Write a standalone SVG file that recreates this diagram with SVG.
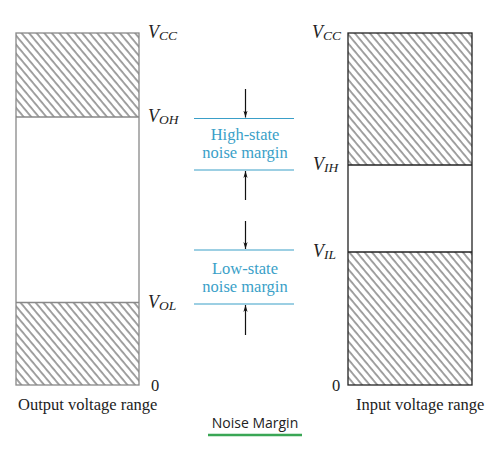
<svg xmlns="http://www.w3.org/2000/svg" width="503" height="454" viewBox="0 0 503 454">
<defs>
<pattern id="hatch" patternUnits="userSpaceOnUse" width="5.8" height="10" patternTransform="rotate(-40)">
<line x1="1" y1="-1" x2="1" y2="11" stroke="#111" stroke-width="0.8"/>
</pattern>
<marker id="ah" markerWidth="7" markerHeight="12" refX="10" refY="3.5" orient="auto" markerUnits="userSpaceOnUse" viewBox="0 0 10 7">
<path d="M0,0.5 L10,3.5 L0,6.5 L3,3.5 Z" fill="#111"/>
</marker>
</defs>
<style>
.lbl{font-family:"Liberation Serif","DejaVu Serif",serif;font-size:16.5px;fill:#222}
.v{font-family:"Liberation Serif","DejaVu Serif",serif;font-style:italic;fill:#222}
.nm{font-family:"Liberation Serif","DejaVu Serif",serif;font-size:16.5px;fill:#3a9fc8;text-anchor:middle}
.cy{stroke:#3a9fc8;stroke-width:1.2}
.arr{stroke:#111;stroke-width:1.2;marker-end:url(#ah)}
</style>
<rect width="503" height="454" fill="#fff"/>
<g id="output-range">
<rect x="16" y="33" width="123" height="84" fill="url(#hatch)"/>
<rect x="16" y="302.5" width="123" height="82.5" fill="url(#hatch)"/>
<rect x="16" y="33" width="123" height="352" fill="none" stroke="#888" stroke-width="1.3"/>
<line x1="16" y1="117" x2="139" y2="117" stroke="#888" stroke-width="1.3"/>
<line x1="16" y1="302.5" x2="139" y2="302.5" stroke="#888" stroke-width="1.3"/>
<text class="v" x="148" y="38" font-size="18">V<tspan font-size="13.5" dy="2">CC</tspan></text>
<text class="v" x="148" y="122" font-size="18">V<tspan font-size="13.5" dy="2">OH</tspan></text>
<text class="v" x="148" y="308" font-size="18">V<tspan font-size="13.5" dy="2">OL</tspan></text>
<text class="lbl" x="151" y="391">0</text>
<text class="lbl" x="18" y="410">Output voltage range</text>
</g>
<g id="input-range">
<rect x="348" y="33" width="124" height="132" fill="url(#hatch)"/>
<rect x="348" y="252" width="124" height="133" fill="url(#hatch)"/>
<rect x="348" y="33" width="124" height="352" fill="none" stroke="#222" stroke-width="1.3"/>
<line x1="348" y1="165" x2="472" y2="165" stroke="#222" stroke-width="1.3"/>
<line x1="348" y1="252" x2="472" y2="252" stroke="#222" stroke-width="1.3"/>
<text class="v" x="312" y="38" font-size="18">V<tspan font-size="13.5" dy="2">CC</tspan></text>
<text class="v" x="313" y="170" font-size="18">V<tspan font-size="13.5" dy="2">IH</tspan></text>
<text class="v" x="313" y="257" font-size="18">V<tspan font-size="13.5" dy="2">IL</tspan></text>
<text class="lbl" x="332" y="391">0</text>
<text class="lbl" x="356" y="410">Input voltage range</text>
</g>
<g id="high-margin">
<line class="cy" x1="194" y1="118.5" x2="294" y2="118.5"/>
<line class="cy" x1="194" y1="170" x2="294" y2="170"/>
<text class="nm" x="245" y="140">High-state</text>
<text class="nm" x="245" y="158">noise margin</text>
</g>
<g id="low-margin">
<line class="cy" x1="194" y1="250" x2="294" y2="250"/>
<line class="cy" x1="194" y1="304" x2="294" y2="304"/>
<text class="nm" x="245" y="274">Low-state</text>
<text class="nm" x="245" y="292">noise margin</text>
</g>
<g id="connectors">
<line class="arr" x1="245.5" y1="89" x2="245.5" y2="117.5"/>
<line class="arr" x1="245.5" y1="200" x2="245.5" y2="171"/>
<line class="arr" x1="245.5" y1="221" x2="245.5" y2="249"/>
<line class="arr" x1="245.5" y1="335" x2="245.5" y2="305"/>
</g>
<g id="caption">
<text x="255" y="428" text-anchor="middle" font-family="Open Sans, 'Liberation Sans', sans-serif" font-size="14" fill="#222">Noise Margin</text>
<line x1="208" y1="435" x2="302" y2="435" stroke="#3aa655" stroke-width="2.5"/>
</g>
</svg>
